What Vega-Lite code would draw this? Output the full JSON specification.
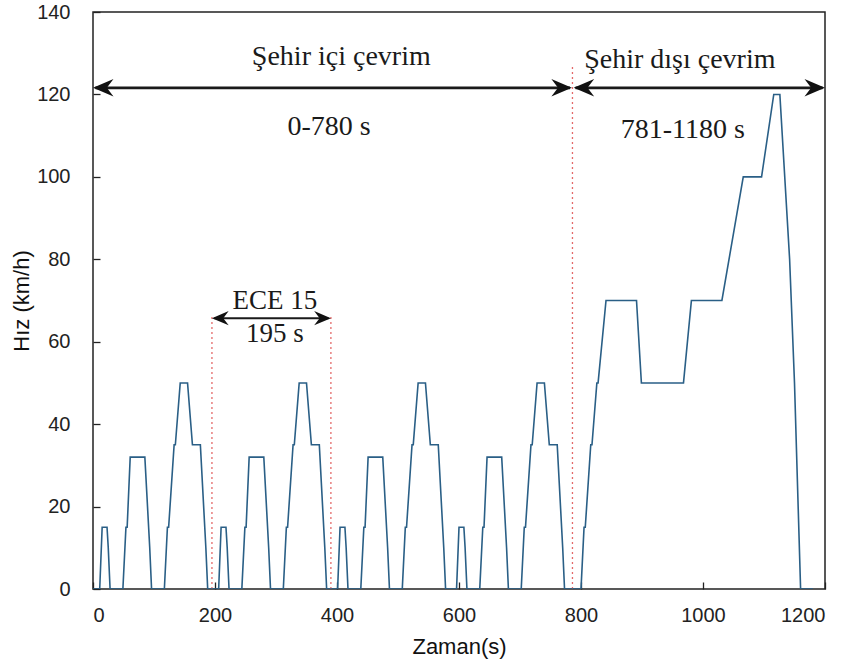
{
  "$schema": "https://vega.github.io/schema/vega-lite/v6.json",
  "width": 732,
  "height": 577,
  "autosize": {"type": "none"},
  "padding": {"left": 93, "top": 12, "right": 29, "bottom": 81},
  "background": "white",
  "config": {
    "view": {"stroke": "#222222", "strokeWidth": 1.5},
    "axis": {
      "domain": false,
      "grid": false,
      "labelFont": "Liberation Sans",
      "titleFont": "Liberation Sans",
      "labelFontSize": 20,
      "titleFontSize": 22,
      "labelColor": "#222222",
      "titleColor": "#111111",
      "titleFontWeight": "normal",
      "tickColor": "#222222",
      "tickSize": 7,
      "tickWidth": 1.3
    }
  },
  "datasets": {
    "speed": [
      {"t": 0, "v": 0}, {"t": 11, "v": 0}, {"t": 15, "v": 15}, {"t": 23, "v": 15}, {"t": 25, "v": 10}, {"t": 28, "v": 0},
      {"t": 49, "v": 0}, {"t": 54, "v": 15}, {"t": 56, "v": 15}, {"t": 61, "v": 32}, {"t": 85, "v": 32}, {"t": 93, "v": 10}, {"t": 96, "v": 0},
      {"t": 117, "v": 0}, {"t": 122, "v": 15}, {"t": 124, "v": 15}, {"t": 133, "v": 35}, {"t": 135, "v": 35}, {"t": 143, "v": 50}, {"t": 155, "v": 50},
      {"t": 163, "v": 35}, {"t": 176, "v": 35}, {"t": 185, "v": 10}, {"t": 188, "v": 0},
      {"t": 206, "v": 0}, {"t": 210, "v": 15}, {"t": 218, "v": 15}, {"t": 220, "v": 10}, {"t": 223, "v": 0},
      {"t": 244, "v": 0}, {"t": 249, "v": 15}, {"t": 251, "v": 15}, {"t": 256, "v": 32}, {"t": 280, "v": 32}, {"t": 288, "v": 10}, {"t": 291, "v": 0},
      {"t": 312, "v": 0}, {"t": 317, "v": 15}, {"t": 319, "v": 15}, {"t": 328, "v": 35}, {"t": 330, "v": 35}, {"t": 338, "v": 50}, {"t": 350, "v": 50},
      {"t": 358, "v": 35}, {"t": 371, "v": 35}, {"t": 380, "v": 10}, {"t": 383, "v": 0},
      {"t": 401, "v": 0}, {"t": 405, "v": 15}, {"t": 413, "v": 15}, {"t": 415, "v": 10}, {"t": 418, "v": 0},
      {"t": 439, "v": 0}, {"t": 444, "v": 15}, {"t": 446, "v": 15}, {"t": 451, "v": 32}, {"t": 475, "v": 32}, {"t": 483, "v": 10}, {"t": 486, "v": 0},
      {"t": 507, "v": 0}, {"t": 512, "v": 15}, {"t": 514, "v": 15}, {"t": 523, "v": 35}, {"t": 525, "v": 35}, {"t": 533, "v": 50}, {"t": 545, "v": 50},
      {"t": 553, "v": 35}, {"t": 566, "v": 35}, {"t": 575, "v": 10}, {"t": 578, "v": 0},
      {"t": 596, "v": 0}, {"t": 600, "v": 15}, {"t": 608, "v": 15}, {"t": 610, "v": 10}, {"t": 613, "v": 0},
      {"t": 634, "v": 0}, {"t": 639, "v": 15}, {"t": 641, "v": 15}, {"t": 646, "v": 32}, {"t": 670, "v": 32}, {"t": 678, "v": 10}, {"t": 681, "v": 0},
      {"t": 702, "v": 0}, {"t": 707, "v": 15}, {"t": 709, "v": 15}, {"t": 718, "v": 35}, {"t": 720, "v": 35}, {"t": 728, "v": 50}, {"t": 740, "v": 50},
      {"t": 748, "v": 35}, {"t": 761, "v": 35}, {"t": 770, "v": 10}, {"t": 773, "v": 0},
      {"t": 800, "v": 0}, {"t": 805, "v": 15}, {"t": 807, "v": 15}, {"t": 816, "v": 35}, {"t": 818, "v": 35}, {"t": 826, "v": 50}, {"t": 828, "v": 50},
      {"t": 841, "v": 70}, {"t": 891, "v": 70}, {"t": 899, "v": 50}, {"t": 968, "v": 50}, {"t": 981, "v": 70}, {"t": 1031, "v": 70},
      {"t": 1066, "v": 100}, {"t": 1096, "v": 100}, {"t": 1116, "v": 120}, {"t": 1126, "v": 120}, {"t": 1142, "v": 80}, {"t": 1150, "v": 50},
      {"t": 1160, "v": 0}, {"t": 1180, "v": 0}
    ],
    "dotted": [
      {"x": 195, "y0": 0, "y1": 66},
      {"x": 390, "y0": 0, "y1": 66},
      {"x": 786, "y0": 0, "y1": 127}
    ],
    "arrows": [
      {"x0": 4, "x1": 782, "y": 121.6, "kind": "big"},
      {"x0": 791, "x1": 1196, "y": 121.6, "kind": "big"},
      {"x0": 199, "x1": 386, "y": 65.7, "kind": "small"}
    ],
    "bigheads": [
      {"x": 0, "y": 121.6, "dir": "left"},
      {"x": 785, "y": 121.6, "dir": "right"},
      {"x": 788, "y": 121.6, "dir": "left"},
      {"x": 1200, "y": 121.6, "dir": "right"}
    ],
    "smallheads": [
      {"x": 195, "y": 65.7, "dir": "left"},
      {"x": 390, "y": 65.7, "dir": "right"}
    ],
    "biglabels": [
      {"x": 407, "y": 129.1, "text": "Şehir içi çevrim"},
      {"x": 387, "y": 112, "text": "0-780 s"},
      {"x": 962, "y": 128.4, "text": "Şehir dışı çevrim"},
      {"x": 967, "y": 111.4, "text": "781-1180 s"}
    ],
    "smalllabels": [
      {"x": 298, "y": 70, "text": "ECE 15"},
      {"x": 298, "y": 61.9, "text": "195 s"}
    ]
  },
  "layer": [
    {
      "data": {"name": "dotted"},
      "mark": {"type": "rule", "color": "#e46a6a", "strokeDash": [2, 3], "strokeWidth": 1.3},
      "encoding": {
        "x": {"field": "x", "type": "quantitative", "scale": {"domain": [0, 1200], "nice": false}},
        "y": {"field": "y0", "type": "quantitative", "scale": {"domain": [0, 140], "nice": false}},
        "y2": {"field": "y1"}
      }
    },
    {
      "data": {"name": "speed"},
      "mark": {"type": "line", "color": "#2a5f86", "strokeWidth": 1.6, "clip": true},
      "encoding": {
        "x": {
          "field": "t", "type": "quantitative",
          "scale": {"domain": [0, 1200], "nice": false},
          "axis": {"values": [0, 200, 400, 600, 800, 1000, 1200], "format": "d", "offset": -7, "title": "Zaman(s)", "labelPadding": 16, "titlePadding": 11}
        },
        "y": {
          "field": "v", "type": "quantitative",
          "scale": {"domain": [0, 140], "nice": false},
          "axis": {"values": [0, 20, 40, 60, 80, 100, 120, 140], "format": "d", "offset": -7, "title": "Hız (km/h)", "labelPadding": 23, "titlePadding": 3}
        }
      }
    },
    {
      "data": {"name": "arrows"},
      "mark": {"type": "rule", "color": "#1a1a1a"},
      "encoding": {
        "x": {"field": "x0", "type": "quantitative"},
        "x2": {"field": "x1"},
        "y": {"field": "y", "type": "quantitative"},
        "strokeWidth": {"field": "kind", "type": "nominal", "scale": {"domain": ["big", "small"], "range": [2.6, 2]}, "legend": null}
      }
    },
    {
      "data": {"name": "bigheads"},
      "mark": {"type": "point", "filled": true, "color": "#111111", "opacity": 1, "strokeWidth": 0, "size": 420},
      "encoding": {
        "x": {"field": "x", "type": "quantitative"},
        "y": {"field": "y", "type": "quantitative"},
        "shape": {
          "field": "dir", "type": "nominal",
          "scale": {"domain": ["left", "right"], "range": ["M0,0 L2,-0.85 L1.35,0 L2,0.85 Z", "M0,0 L-2,-0.85 L-1.35,0 L-2,0.85 Z"]},
          "legend": null
        }
      }
    },
    {
      "data": {"name": "smallheads"},
      "mark": {"type": "point", "filled": true, "color": "#111111", "opacity": 1, "strokeWidth": 0, "size": 280},
      "encoding": {
        "x": {"field": "x", "type": "quantitative"},
        "y": {"field": "y", "type": "quantitative"},
        "shape": {"field": "dir", "type": "nominal", "legend": null}
      }
    },
    {
      "data": {"name": "biglabels"},
      "mark": {"type": "text", "font": "Liberation Serif", "fontSize": 28, "color": "#1a1a1a", "align": "center", "baseline": "middle"},
      "encoding": {
        "x": {"field": "x", "type": "quantitative"},
        "y": {"field": "y", "type": "quantitative"},
        "text": {"field": "text", "type": "nominal"}
      }
    },
    {
      "data": {"name": "smalllabels"},
      "mark": {"type": "text", "font": "Liberation Serif", "fontSize": 27, "color": "#1a1a1a", "align": "center", "baseline": "middle"},
      "encoding": {
        "x": {"field": "x", "type": "quantitative"},
        "y": {"field": "y", "type": "quantitative"},
        "text": {"field": "text", "type": "nominal"}
      }
    }
  ]
}
